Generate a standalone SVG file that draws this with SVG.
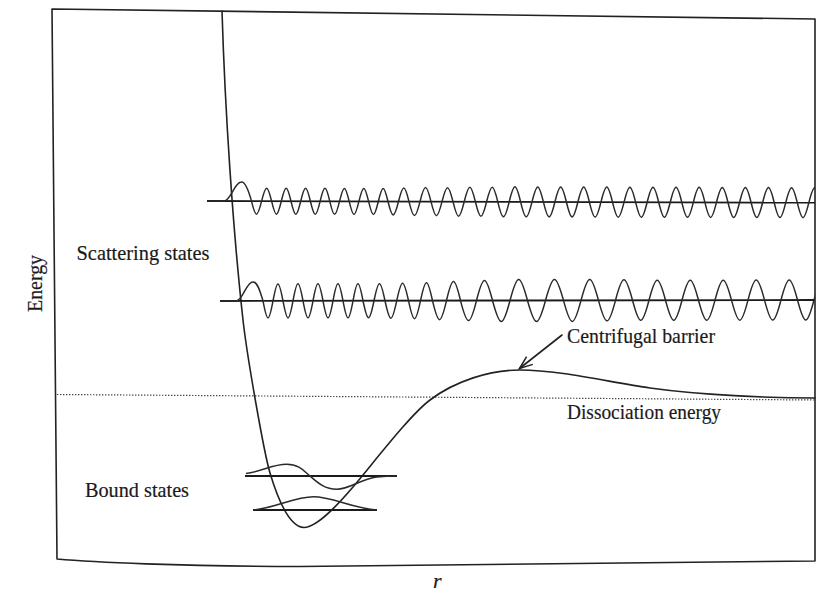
<svg xmlns="http://www.w3.org/2000/svg" width="839" height="610" viewBox="0 0 839 610">
<style>
.ln{fill:none;stroke:#222;stroke-width:1.6;stroke-linejoin:round;stroke-linecap:round}
.base{fill:none;stroke:#1a1a1a;stroke-width:1.8}
.wave{fill:none;stroke:#2a2a2a;stroke-width:1.5}
.lbl{font-family:"Liberation Serif","Times New Roman",serif;font-size:22px;fill:#1a1a1a;stroke:#1a1a1a;stroke-width:0.2}
</style>
<defs>
<clipPath id="clipR"><rect x="0" y="0" width="815" height="610"/></clipPath>
<marker id="vhead" markerUnits="userSpaceOnUse" markerWidth="16" markerHeight="14" viewBox="-14 -7 16 14" refX="0" refY="0" orient="auto">
<path d="M-13,-5 L0,0 L-13,5" fill="none" stroke="#222" stroke-width="1.5"/>
</marker>
</defs>
<rect width="839" height="610" fill="#ffffff"/>

<g id="frame">
<path class="ln" d="M52,9 L815,19 L815,561 C650,562 450,566 300,566.5 C180,566.5 90,562 57,559 Z"/>
</g>

<g id="dissociation-line">
<line x1="57" y1="394.5" x2="815" y2="400" stroke="#444" stroke-width="1.2" stroke-dasharray="1.4 1.6"/>
</g>

<g id="potential">
<path class="ln" d="M222,11 C225,110 233,230 243,320 C247,356 264,453 270,473 C279,503 290,527 304,527.5 C318,527.5 341,501 353,487 C375,461 410,415 430,400 C455,381 490,370 520,370 C560,370 610,382.4 650,388 C700,395 770,398 815,398"/>
</g>

<g id="scattering-high" clip-path="url(#clipR)">
<line class="base" x1="207" y1="201" x2="815" y2="202.7"/>
<path class="wave" transform="rotate(0.16 207 201)" d="M207,201 H224 C231,201 234,182 241.7,182 C246,182 249.5,194 251.5,201
c4.29,17.33 5.81,17.33 10.1,0 c4.24,-17.33 5.76,-17.33 10,0
c4.12,17.33 5.58,17.33 9.7,0 c4.12,-17.33 5.58,-17.33 9.7,0
c4.12,17.33 5.58,17.33 9.7,0 c4.12,-17.33 5.58,-17.33 9.7,0
c4.12,17.33 5.58,17.33 9.7,0 c4.12,-17.33 5.58,-17.33 9.7,0
c4.12,17.33 5.58,17.33 9.7,0 c4.12,-17.33 5.58,-17.33 9.7,0
c4.12,17.33 5.58,17.33 9.7,0 c4.12,-17.33 5.58,-17.33 9.7,0
c4.12,17.33 5.58,17.33 9.7,0 c4.12,-17.33 5.58,-17.33 9.7,0
c4.46,18 6.04,18 10.5,0 c4.46,-18 6.04,-18 10.5,0
c4.67,18.67 6.33,18.67 11,0 c4.67,-18.67 6.33,-18.67 11,0
c4.67,18.67 6.33,18.67 11,0 c4.67,-18.67 6.33,-18.67 11,0
c4.75,19.33 6.45,19.33 11.2,0 c4.75,-19.33 6.45,-19.33 11.2,0
c4.75,19.33 6.45,19.33 11.2,0 c4.75,-19.33 6.45,-19.33 11.2,0
c4.84,20 6.56,20 11.4,0 c4.84,-20 6.56,-20 11.4,0
c4.84,20 6.56,20 11.4,0 c4.84,-20 6.56,-20 11.4,0
c4.88,20 6.62,20 11.5,0 c4.88,-20 6.62,-20 11.5,0
c4.88,20 6.62,20 11.5,0 c4.88,-20 6.62,-20 11.5,0
c4.9,20 6.65,20 11.55,0 c4.9,-20 6.65,-20 11.55,0
c4.9,20 6.65,20 11.55,0 c4.9,-20 6.65,-20 11.55,0
c4.9,20 6.65,20 11.55,0 c4.9,-20 6.65,-20 11.55,0
c4.9,20 6.65,20 11.55,0 c4.9,-20 6.65,-20 11.55,0
c4.9,20 6.65,20 11.55,0 c4.9,-20 6.65,-20 11.55,0
c4.9,20 6.65,20 11.55,0 c4.9,-20 6.65,-20 11.55,0
c4.9,20 6.65,20 11.55,0 c4.9,-20 6.65,-20 11.55,0
c4.9,20 6.65,20 11.55,0 c4.9,-20 6.65,-20 11.55,0
c4.9,20 6.65,20 11.55,0 c4.9,-20 6.65,-20 11.55,0
c4.9,20 6.65,20 11.55,0 c4.9,-20 6.65,-20 11.55,0"/>
</g>

<g id="scattering-low" clip-path="url(#clipR)">
<line class="base" x1="220" y1="301" x2="815" y2="300"/>
<path class="wave" transform="rotate(-0.096 220 301)" d="M220,301 H236 C243,301 246,282 253,282 C258,282 260.5,293 263,301
c4.24,22.67 5.76,22.67 10,0
c4.24,-22.67 5.76,-22.67 10,0 c4.24,22.67 5.76,22.67 10,0
c4.24,-22.67 5.76,-22.67 10,0 c4.24,22.67 5.76,22.67 10,0
c4.24,-22.67 5.76,-22.67 10,0 c4.24,22.67 5.76,22.67 10,0
c4.24,-22.67 5.76,-22.67 10,0 c4.24,22.67 5.76,22.67 10,0
c4.24,-22.67 5.76,-22.67 10,0
c4.67,22.67 6.33,22.67 11,0 c4.67,-22.67 6.33,-22.67 11,0
c4.99,23.33 6.76,23.33 11.75,0 c4.99,-23.33 6.76,-23.33 11.75,0
c5.09,24 6.91,24 12,0 c5.09,-24 6.91,-24 12,0
c5.94,25.33 8.06,25.33 14,0 c5.94,-25.33 8.06,-25.33 14,0
c6.79,26.67 9.21,26.67 16,0 c6.79,-26.67 9.21,-26.67 16,0
c7.43,28 10.07,28 17.5,0 c7.43,-28 10.07,-28 17.5,0
c7.64,28 10.36,28 18,0 c7.64,-28 10.36,-28 18,0
c7.43,28 10.07,28 17.5,0 c7.43,-28 10.07,-28 17.5,0
c7.21,27.33 9.79,27.33 17,0 c7.21,-27.33 9.79,-27.33 17,0
c7,26.67 9.5,26.67 16.5,0 c7,-26.67 9.5,-26.67 16.5,0
c7,26.67 9.5,26.67 16.5,0 c7,-26.67 9.5,-26.67 16.5,0
c7,26.67 9.5,26.67 16.5,0 c7,-26.67 9.5,-26.67 16.5,0
c7,26.67 9.5,26.67 16.5,0 c7,-26.67 9.5,-26.67 16.5,0
c7,26.67 9.5,26.67 16.5,0 c7,-26.67 9.5,-26.67 16.5,0
c7,26.67 9.5,26.67 16.5,0 c7,-26.67 9.5,-26.67 16.5,0"/>
</g>

<g id="bound-1">
<line class="base" x1="245" y1="476" x2="397" y2="476"/>
<path class="wave" d="M246,473.5 C262,471.5 272,464.3 286.7,464.3 C299,464.3 304,471 310,476 C318,483 325,489.3 336.7,489.3 C350,489.3 360,479 377,477 C385,476.3 391,476.1 397,476"/>
</g>

<g id="bound-0">
<line class="base" x1="253" y1="510" x2="377" y2="510"/>
<path class="wave" d="M253,510 C275,508 295,496.7 313.3,496.7 C332,496.7 352,508 377,510"/>
</g>

<g id="connectors">
<line class="ln" x1="562" y1="335" x2="519.5" y2="368.5" marker-end="url(#vhead)"/>
</g>

<g id="labels">
<text class="lbl" transform="translate(41.5,283.5) rotate(-90)" text-anchor="middle" textLength="57" lengthAdjust="spacingAndGlyphs">Energy</text>
<text class="lbl" x="76.5" y="260" textLength="133" lengthAdjust="spacingAndGlyphs">Scattering states</text>
<text class="lbl" x="85" y="497" textLength="104" lengthAdjust="spacingAndGlyphs">Bound states</text>
<text class="lbl" x="567" y="343" textLength="148" lengthAdjust="spacingAndGlyphs">Centrifugal barrier</text>
<text class="lbl" x="567" y="419" textLength="154" lengthAdjust="spacingAndGlyphs">Dissociation energy</text>
<text class="lbl" x="433" y="588" font-style="italic">r</text>
</g>
</svg>
